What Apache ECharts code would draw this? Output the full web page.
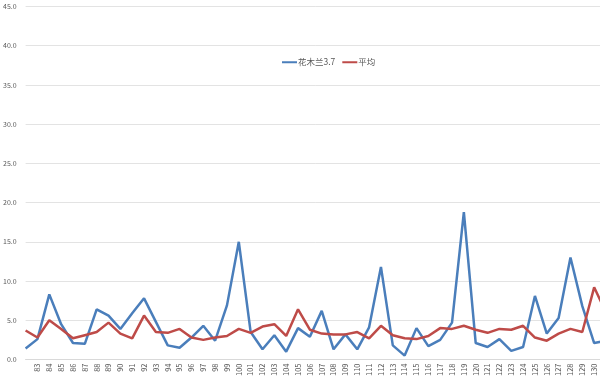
<!DOCTYPE html>
<html>
<head>
<meta charset="utf-8">
<script src="https://cdn.jsdelivr.net/npm/echarts@6/dist/echarts.min.js"></script>
<style>
html,body{margin:0;padding:0;background:#fff;overflow:hidden;width:600px;height:382px;}
#chart{width:612px;height:382px;}
</style>
</head>
<body>
<div id="chart"></div>
<script>
const categories = ['82','83','84','85','86','87','88','89','90','91','92','93','94','95','96','97','98','99','100','101','102','103','104','105','106','107','108','109','110','111','112','113','114','115','116','117','118','119','120','121','122','123','124','125','126','127','128','129','130','131'];
const huamulan = [1.4,2.6,8.3,4.5,2.1,2.0,6.4,5.6,3.9,5.9,7.8,4.8,1.8,1.5,2.8,4.3,2.4,6.9,15.0,3.5,1.3,3.1,1.0,4.0,2.9,6.2,1.3,3.2,1.3,4.1,11.8,1.8,0.5,4.0,1.7,2.5,4.7,18.8,2.1,1.6,2.6,1.1,1.6,8.1,3.3,5.3,13.0,6.8,2.1,2.4];
const average = [3.7,2.8,5.0,3.9,2.7,3.1,3.5,4.7,3.3,2.7,5.6,3.5,3.4,3.9,2.8,2.5,2.8,3.0,3.9,3.4,4.2,4.5,3.0,6.4,3.8,3.3,3.2,3.2,3.5,2.7,4.3,3.1,2.7,2.6,3.0,4.0,3.9,4.3,3.8,3.4,3.9,3.8,4.3,2.8,2.4,3.3,3.9,3.5,9.2,6.0];
const seriesNames = ['花木兰3.7','平均'];
const yTicks = {min:0, max:45, interval:5};

const chart = echarts.init(document.getElementById('chart'), null, {renderer:'canvas'});
chart.setOption({
  animation:false,
  backgroundColor:'#ffffff',
  textStyle:{fontFamily:'"Noto Sans CJK SC", "Liberation Sans", sans-serif'},
  legend:{
    data:seriesNames,
    left:277, top:53,
    itemWidth:15, itemHeight:8, itemGap:7,
    textStyle:{fontSize:8.5, color:'#595959', padding:[0,0,0,-4]},
    icon:'path://M0,4 L15,4 L15,6 L0,6 Z'
  },
  grid:{left:24, top:6.5, right:6, bottom:22.5, containLabel:false},
  xAxis:{
    type:'category',
    data:categories,
    boundaryGap:false,
    axisLine:{show:true, lineStyle:{color:'#d9d9d9', width:1}},
    axisTick:{show:false},
    axisLabel:{
      rotate:90, fontSize:7.5, color:'#595959', margin:4, interval:0,
      formatter:function(v, i){ return (i === 0 || i === categories.length - 1) ? '' : v; }
    },
    splitLine:{show:false}
  },
  yAxis:{
    type:'value',
    min:yTicks.min, max:yTicks.max, interval:yTicks.interval,
    axisLine:{show:false},
    axisTick:{show:false},
    axisLabel:{fontSize:7, color:'#595959', margin:9, formatter:function(v){return v.toFixed(1);}},
    splitLine:{show:true, lineStyle:{color:'#e3e3e3', width:1}}
  },
  series:[
    {name:seriesNames[0], type:'line', data:huamulan, symbol:'none',
     lineStyle:{color:'#4a7ebb', width:2.5}, itemStyle:{color:'#4a7ebb'}, z:2},
    {name:seriesNames[1], type:'line', data:average, symbol:'none',
     lineStyle:{color:'#be4b48', width:2.5}, itemStyle:{color:'#be4b48'}, z:3}
  ]
});
</script>
</body>
</html>
